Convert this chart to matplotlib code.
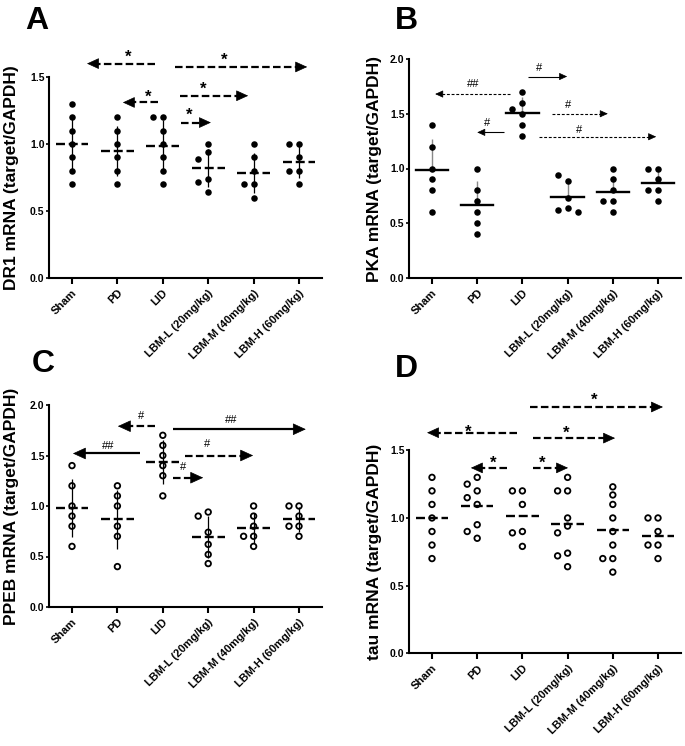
import numpy as np
import matplotlib
matplotlib.use('Agg')
import matplotlib.pyplot as plt

plt.rcParams['font.family'] = ['Liberation Sans', 'DejaVu Sans']
plt.rcParams['font.weight'] = 'bold'

groups = ['Sham', 'PD', 'LID', 'LBM-L (20mg/kg)', 'LBM-M (40mg/kg)', 'LBM-H (60mg/kg)']

# Panel A: DR1
dr1_sham = [1.3, 1.2, 1.1, 1.0, 0.9, 0.8, 0.7]
dr1_pd = [1.2, 1.1, 1.0, 0.9, 0.8, 0.7]
dr1_lid = [1.2, 1.2, 1.1, 1.0, 0.9, 0.8, 0.7]
dr1_lbml = [1.0, 0.94, 0.89, 0.74, 0.72, 0.64]
dr1_lbmm = [1.0, 0.9, 0.8, 0.7, 0.7, 0.6]
dr1_lbmh = [1.0, 1.0, 0.9, 0.8, 0.8, 0.7]

# Panel B: PKA
pka_sham = [1.4, 1.2, 1.0, 0.9, 0.8, 0.6]
pka_pd = [1.0, 0.8, 0.7, 0.6, 0.5, 0.4]
pka_lid = [1.7, 1.6, 1.5, 1.54, 1.4, 1.3]
pka_lbml = [0.89, 0.94, 0.73, 0.64, 0.62, 0.60]
pka_lbmm = [1.0, 0.9, 0.8, 0.7, 0.7, 0.6]
pka_lbmh = [1.0, 1.0, 0.9, 0.8, 0.8, 0.7]

# Panel C: PPEB
ppeb_sham = [1.4, 1.2, 1.0, 0.9, 0.8, 0.6]
ppeb_pd = [1.2, 1.1, 1.0, 0.8, 0.7, 0.4]
ppeb_lid = [1.7, 1.6, 1.5, 1.4, 1.3, 1.1]
ppeb_lbml = [0.94, 0.9, 0.74, 0.62, 0.52, 0.43]
ppeb_lbmm = [1.0, 0.9, 0.8, 0.7, 0.7, 0.6]
ppeb_lbmh = [1.0, 1.0, 0.9, 0.8, 0.8, 0.7]

# Panel D: tau
tau_sham = [1.3, 1.2, 1.1, 1.0, 0.9, 0.8, 0.7]
tau_pd = [1.3, 1.25, 1.2, 1.15, 1.1, 0.95, 0.9, 0.85]
tau_lid = [1.2, 1.2, 1.1, 0.9, 0.89, 0.79]
tau_lbml = [1.3, 1.2, 1.2, 1.0, 0.94, 0.89, 0.74, 0.72, 0.64]
tau_lbmm = [1.23, 1.17, 1.1, 1.0, 0.9, 0.8, 0.7, 0.7, 0.6]
tau_lbmh = [1.0, 1.0, 0.9, 0.8, 0.8, 0.7]

# significance annotations: (x_from, x_to, y, label, label_x, label_y)
ann_a = [(1.83, 0.33, 1.60, '*', 1.23, 1.68),
         (2.27, 5.18, 1.575, '*', 3.35, 1.66),
         (2.38, 3.88, 1.36, '*', 2.89, 1.44),
         (1.89, 1.12, 1.31, '*', 1.67, 1.38),
         (2.40, 3.06, 1.16, '*', 2.58, 1.25)]
ann_b = [(2.12, 2.99, 1.84, '#', 2.37, 1.93, '-'),
         (1.73, 0.07, 1.68, '##', 0.91, 1.78, '--'),
         (2.65, 3.89, 1.50, '#', 3.00, 1.59, '--'),
         (1.59, 1.00, 1.33, '#', 1.22, 1.42, '-'),
         (2.37, 4.96, 1.29, '#', 3.25, 1.36, '--')]
ann_c = [(1.83, 1.01, 1.79, '#', 1.52, 1.90, '--'),
         (2.22, 5.15, 1.76, '##', 3.50, 1.86, '-'),
         (1.50, 0.02, 1.52, '##', 0.79, 1.60, '-'),
         (2.49, 3.99, 1.50, '#', 2.97, 1.62, '--'),
         (2.22, 2.89, 1.28, '#', 2.44, 1.39, '--')]
ann_d = [(2.17, 5.11, 1.82, '*', 3.58, 1.90),
         (1.88, -0.11, 1.63, '*', 0.80, 1.67),
         (2.23, 4.05, 1.59, '*', 2.96, 1.66),
         (1.66, 0.86, 1.37, '*', 1.35, 1.44),
         (2.23, 3.01, 1.37, '*', 2.43, 1.44)]

W, H = 685, 746
fig = plt.figure(figsize=(W / 100, H / 100), dpi=100)


def px_axes(l, r, t, b):
    return fig.add_axes([l / W, 1 - b / H, (r - l) / W, (b - t) / H])


def swarm_x(ax, xc, vals, d_px=10.0, thresh=8.0):
    trans = ax.transData
    inv = trans.inverted()
    placed = []
    xs = []
    for v in vals:
        xcpx, ypx = trans.transform((xc, v))
        chosen = xcpx
        for k in [0, -1, 1, -2, 2]:
            xp = xcpx + k * d_px
            if all(np.hypot(xp - a, ypx - b) >= thresh for a, b in placed):
                chosen = xp
                break
        placed.append((chosen, ypx))
        xs.append(inv.transform((chosen, ypx))[0])
    return xs


def setup(ax, ymax, yticks, ylabel, lab_x):
    ax.set_xlim(-0.5, 5.5)
    ax.set_ylim(0, ymax)
    for s in ['top', 'right']:
        ax.spines[s].set_visible(False)
    for s in ['left', 'bottom']:
        ax.spines[s].set_linewidth(1.5)
    ax.set_yticks(yticks)
    ax.set_yticklabels(['%.1f' % v for v in yticks], fontsize=7.5, fontweight='bold')
    ax.tick_params(axis='y', length=2.5, width=1.2, pad=1)
    ax.set_xticks(range(len(groups)))
    ax.set_xticklabels(groups, fontsize=8, fontweight='bold', rotation=45,
                       ha='right', rotation_mode='anchor')
    ax.tick_params(axis='x', length=4, width=1.5, pad=3)
    ax.set_ylabel(ylabel, fontsize=12.5, fontweight='bold')
    ax.yaxis.set_label_coords(lab_x, 0.5)


def draw_groups(ax, data, filled, mean_style, err):
    for i, vals in enumerate(data):
        vals = np.array(vals, dtype=float)
        m = vals.mean()
        sd = vals.std(ddof=1)
        if err == 'both':
            ax.errorbar(i, m, yerr=sd, fmt='none', ecolor='k', elinewidth=0.9,
                        capsize=0, zorder=2)
        elif err == 'up':
            ax.errorbar(i, m, yerr=[[0], [sd]], fmt='none', ecolor='#888888',
                        elinewidth=1.0, capsize=0, zorder=2)
        xs = swarm_x(ax, i, vals)
        if filled:
            ax.scatter(xs, vals, s=22, color='k', zorder=3, linewidths=0)
        else:
            ax.scatter(xs, vals, s=16, facecolors='none', edgecolors='k',
                       linewidths=1.3, zorder=3)
        if mean_style == 'dash':
            ax.plot([i - 0.36, i + 0.36], [m, m], color='k', lw=1.7,
                    ls=(0, (3.8, 1.6)), zorder=4, solid_capstyle='butt')
        else:
            ax.plot([i - 0.36, i + 0.36], [m, m], color='k', lw=1.7, zorder=4)


def sig_text(ax, x, y, text):
    if '*' in text:
        ax.annotate(text, xy=(x, y), xytext=(0, -6.5), textcoords='offset points',
                    ha='center', va='baseline', fontsize=12, fontweight='bold',
                    annotation_clip=False)
    else:
        ax.annotate(text, xy=(x, y), xytext=(0, -2.8), textcoords='offset points',
                    ha='center', va='baseline', fontsize=8, fontweight='normal',
                    annotation_clip=False)


def arrow(ax, x0, x1, y, ls, lw, ms):
    # head length in data units (head_length=0.7 * mutation_scale points)
    px_per_unit = ax.transData.transform((1, 0))[0] - ax.transData.transform((0, 0))[0]
    hl = 0.7 * ms * fig.dpi / 72.0 / px_per_unit
    sgn = 1 if x1 > x0 else -1
    xb = x1 - sgn * hl
    ax.plot([x0, xb + sgn * 0.01], [y, y], color='k', lw=lw, ls=ls,
            solid_capstyle='butt', dash_capstyle='butt', clip_on=False, zorder=5)
    ax.annotate('', xy=(x1, y), xytext=(xb, y),
                arrowprops=dict(arrowstyle='-|>,head_length=0.7,head_width=0.32',
                                lw=0.5, color='k', shrinkA=0, shrinkB=0,
                                mutation_scale=ms),
                annotation_clip=False)


# ---- Panel A
axA = px_axes(49.3, 321.7, 77, 278)
setup(axA, 1.5, [0.0, 0.5, 1.0, 1.5], 'DR1 mRNA (target/GAPDH)', -0.113)
draw_groups(axA, [dr1_sham, dr1_pd, dr1_lid, dr1_lbml, dr1_lbmm, dr1_lbmh],
            True, 'dash', 'both')
for x0, x1, y, t, tx, ty in ann_a:
    arrow(axA, x0, x1, y, (0, (3.4, 1.5)), 1.6, 11)
    sig_text(axA, tx, ty, t)

# ---- Panel B
axB = px_axes(409.4, 680.6, 59, 278)
setup(axB, 2.0, [0.0, 0.5, 1.0, 1.5, 2.0], 'PKA mRNA (target/GAPDH)', -0.101)
draw_groups(axB, [pka_sham, pka_pd, pka_lid, pka_lbml, pka_lbmm, pka_lbmh],
            True, 'solid', 'up')
for x0, x1, y, t, tx, ty, ls in ann_b:
    arrow(axB, x0, x1, y, ls if ls == '-' else (0, (2.6, 1.6)), 0.8, 7)
    sig_text(axB, tx, ty, t)

# ---- Panel C
axC = px_axes(49.3, 321.7, 405, 607)
setup(axC, 2.0, [0.0, 0.5, 1.0, 1.5, 2.0], 'PPEB mRNA (target/GAPDH)', -0.113)
draw_groups(axC, [ppeb_sham, ppeb_pd, ppeb_lid, ppeb_lbml, ppeb_lbmm, ppeb_lbmh],
            False, 'dash', 'both')
for x0, x1, y, t, tx, ty, ls in ann_c:
    arrow(axC, x0, x1, y, ls if ls == '-' else (0, (3.4, 1.5)), 1.6, 12)
    sig_text(axC, tx, ty, t)

# ---- Panel D
axD = px_axes(409.4, 680.6, 450.3, 653.3)
setup(axD, 1.5, [0.0, 0.5, 1.0, 1.5], 'tau mRNA (target/GAPDH)', -0.101)
draw_groups(axD, [tau_sham, tau_pd, tau_lid, tau_lbml, tau_lbmm, tau_lbmh],
            False, 'dash', 'none')
for x0, x1, y, t, tx, ty in ann_d:
    arrow(axD, x0, x1, y, (0, (3.4, 1.5)), 1.6, 11)
    sig_text(axD, tx, ty, t)

# panel letters
for lab, xp, yp in [('A', 25, 6), ('B', 395, 6), ('C', 32, 349), ('D', 395, 354)]:
    fig.text(xp / W, 1 - yp / H, lab, fontsize=23, fontweight='bold',
             ha='left', va='top')

fig.savefig('out.png', dpi=100)
